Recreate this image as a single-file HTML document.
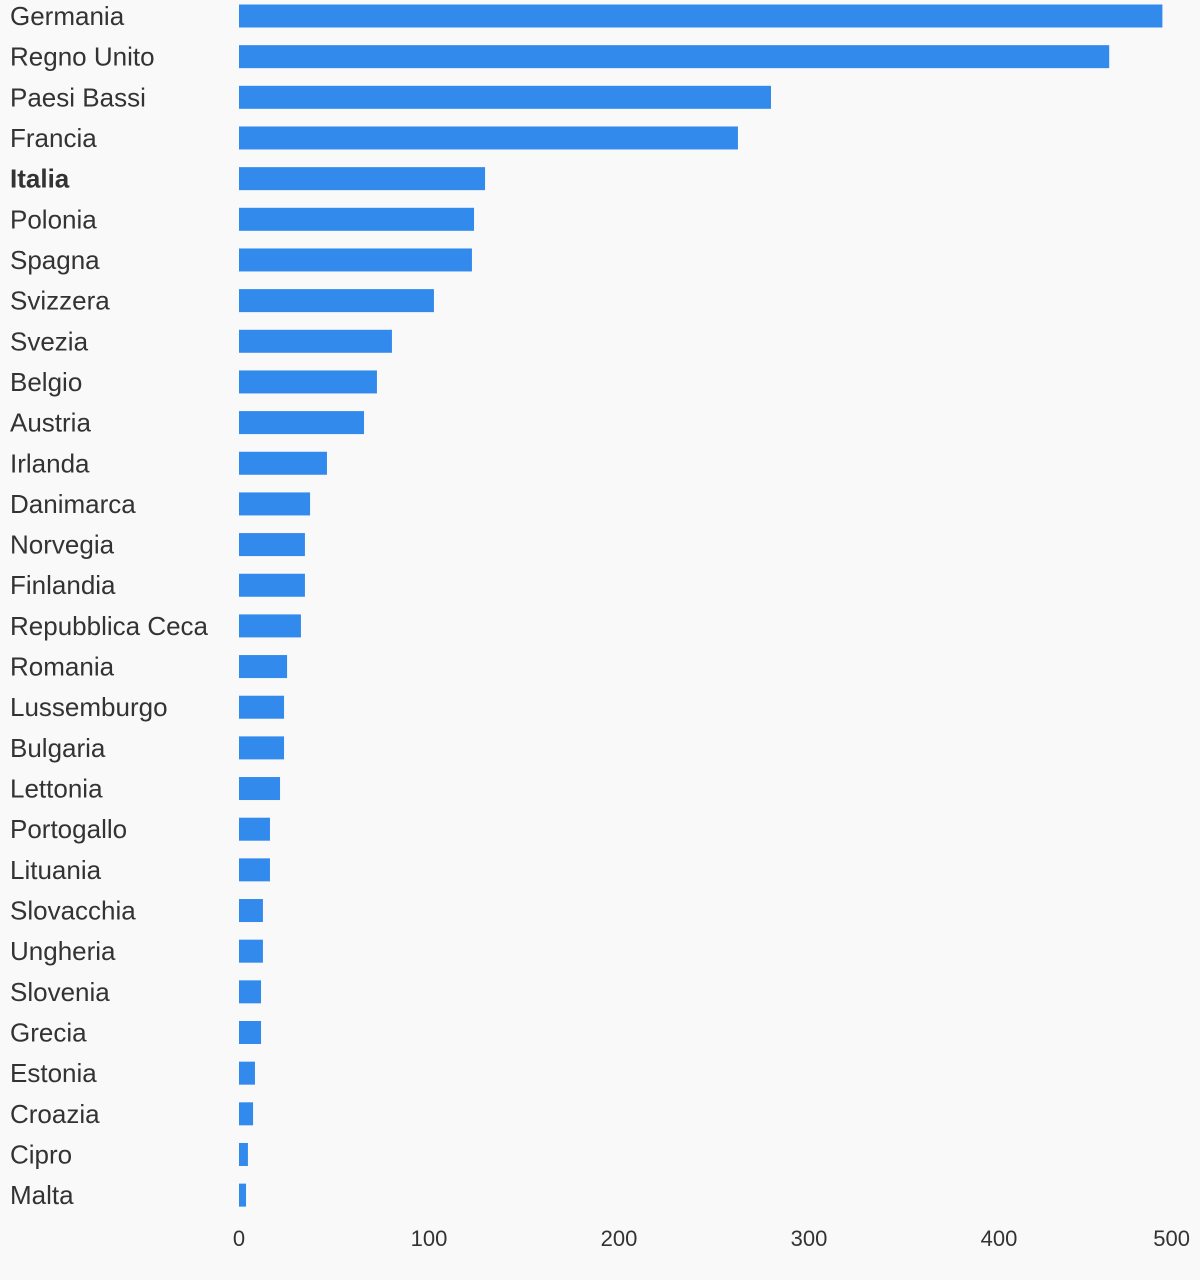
<!DOCTYPE html>
<html><head><meta charset="utf-8">
<style>
html,body{margin:0;padding:0;background:#f9f9f9;}
svg{display:block;font-family:"Liberation Sans",sans-serif;}
</style></head>
<body>
<svg id="chart" width="1200" height="1280" viewBox="0 0 1200 1280">
<rect width="1200" height="1280" fill="#f9f9f9"/>
<g id="bars"></g>
<g id="labels"></g>
<g id="ticks"></g>
</svg>
<script>
const categories = ["Germania","Regno Unito","Paesi Bassi","Francia","Italia","Polonia","Spagna","Svizzera","Svezia","Belgio","Austria","Irlanda","Danimarca","Norvegia","Finlandia","Repubblica Ceca","Romania","Lussemburgo","Bulgaria","Lettonia","Portogallo","Lituania","Slovacchia","Ungheria","Slovenia","Grecia","Estonia","Croazia","Cipro","Malta"];
const values = [486,458,280,262.6,129.5,123.7,122.6,102.6,80.5,72.6,65.8,46.3,37.4,34.7,34.7,32.6,25.3,23.7,23.7,21.6,16.3,16.3,12.6,12.6,11.6,11.6,8.4,7.4,4.7,3.7];
const tickValues = [0,100,200,300,400,500];
const highlighted = ["Italia"];

const NS = "http://www.w3.org/2000/svg";
const x0 = 239, pxPerUnit = 1.9;
function xScale(v){ return x0 + v * pxPerUnit; }
const rowTop = 16, rowStep = 40.66, barH = 23;
function yCenter(i){ return rowTop + i * rowStep; }

const bars = document.getElementById("bars");
const labels = document.getElementById("labels");
const ticks = document.getElementById("ticks");

categories.forEach((c, i) => {
  const r = document.createElementNS(NS, "rect");
  r.setAttribute("x", x0);
  r.setAttribute("y", yCenter(i) - barH / 2);
  r.setAttribute("width", Math.max(0, xScale(values[i]) - x0));
  r.setAttribute("height", barH);
  r.setAttribute("fill", "#338aed");
  
  
  bars.appendChild(r);

  const t = document.createElementNS(NS, "text");
  t.setAttribute("x", 10);
  t.setAttribute("y", yCenter(i) + 9);
  t.setAttribute("font-size", "26");
  t.setAttribute("fill", "#333");
  if (highlighted.includes(c)) t.setAttribute("font-weight", "bold");
  t.textContent = c;
  
  
  labels.appendChild(t);
});

tickValues.forEach((v, i) => {
  const t = document.createElementNS(NS, "text");
  let x = xScale(v);
  let anchor = "middle";
  if (x > 1170) { x = 1190; anchor = "end"; }
  t.setAttribute("x", x);
  t.setAttribute("y", 1246);
  t.setAttribute("font-size", "22");
  t.setAttribute("fill", "#333");
  t.setAttribute("text-anchor", anchor);
  t.textContent = v;
  
  
  ticks.appendChild(t);
});
</script>
</body></html>
